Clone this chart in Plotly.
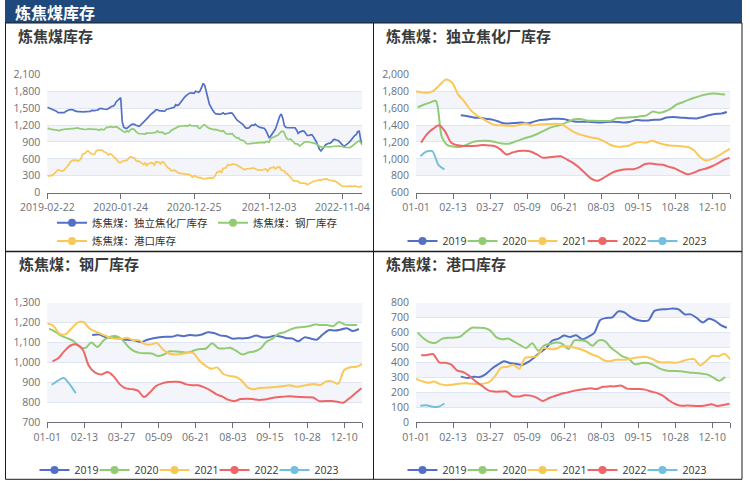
import pandas as pd
import plotly.graph_objects as go

W, H = 750, 481

# weekly inventory, 10k tonnes (one list per year, Fridays)
COKING_2019 = [1515, 1505, 1490, 1485, 1475, 1465, 1445, 1420, 1420, 1425, 1430, 1420, 1440, 1460, 1465,
               1475, 1475, 1470, 1450, 1440, 1438, 1438, 1433, 1430, 1435, 1438, 1436, 1430, 1440, 1460,
               1455, 1455, 1462, 1465, 1490, 1495, 1490, 1485, 1480, 1478, 1495, 1515, 1530, 1535, 1555]
COKING_2020 = [1610, 1640, 1665, 1685, 1260, 1160, 1145, 1140, 1165, 1195, 1210, 1215, 1212, 1195, 1182,
               1178, 1200, 1225, 1250, 1270, 1300, 1335, 1370, 1390, 1410, 1440, 1468, 1470, 1455, 1450,
               1448, 1448, 1450, 1480, 1485, 1490, 1495, 1505, 1515, 1560, 1545, 1560, 1595, 1645, 1670,
               1700, 1725, 1748, 1765, 1772, 1768, 1762]
COKING_2021 = [1800, 1785, 1782, 1810, 1880, 1938, 1900, 1760, 1680, 1570, 1512, 1470, 1430, 1400, 1397,
               1392, 1390, 1400, 1418, 1395, 1402, 1408, 1412, 1416, 1410, 1365, 1320, 1290, 1270, 1252,
               1240, 1210, 1170, 1145, 1145, 1152, 1185, 1200, 1190, 1215, 1190, 1170, 1158, 1155, 1148,
               1140, 1100, 1020, 980, 1000, 1035, 1080, 1120]
COKING_2022 = [1192, 1295, 1357, 1397, 1320, 1190, 1160, 1152, 1152, 1155, 1163, 1158, 1152, 1112, 1052,
               1075, 1093, 1095, 1088, 1055, 1015, 1018, 1026, 1030, 995, 955, 900, 835, 770, 740,
               770, 815, 850, 868, 876, 878, 900, 940, 945, 935, 930, 905, 885, 850, 817,
               835, 865, 884, 910, 945, 985, 1014]
COKING_2023 = [1030, 1085, 1090, 930, 875]

STEEL_2019 = [1138, 1140, 1128, 1124, 1122, 1115, 1113, 1110, 1102, 1114, 1122, 1127, 1129, 1129, 1136,
              1132, 1138, 1135, 1140, 1152, 1148, 1136, 1133, 1120, 1121, 1121, 1125, 1135, 1126, 1126,
              1134, 1130, 1122, 1120, 1106, 1126, 1120, 1114, 1140, 1162, 1160, 1165, 1172, 1158, 1168]
STEEL_2020 = [1170, 1155, 1135, 1122, 1108, 1080, 1072, 1100, 1078, 1110, 1128, 1133, 1118, 1083, 1058,
              1048, 1046, 1045, 1032, 1040, 1056, 1055, 1052, 1050, 1060, 1067, 1070, 1096, 1072, 1070,
              1074, 1058, 1040, 1050, 1055, 1070, 1105, 1120, 1145, 1152, 1166, 1175, 1178, 1182, 1190,
              1188, 1188, 1182, 1203, 1190, 1188, 1188]
STEEL_2021 = [1196, 1185, 1145, 1141, 1170, 1200, 1203, 1170, 1155, 1140, 1128, 1120, 1118, 1124, 1113,
              1112, 1092, 1090, 1098, 1065, 1045, 1040, 1042, 1048, 1048, 1010, 985, 968, 975, 942,
              932, 928, 910, 875, 865, 872, 873, 875, 878, 882, 886, 878, 882, 888, 892,
              886, 905, 905, 893, 962, 976, 978, 993]
STEEL_2022 = [1005, 1022, 1058, 1085, 1090, 1065, 985, 950, 940, 952, 930, 890, 870, 866, 858,
              826, 850, 882, 895, 902, 903, 902, 890, 885, 885, 875, 860, 840, 828, 812,
              806, 816, 818, 816, 812, 814, 820, 825, 828, 830, 828, 826, 825, 824, 806,
              806, 806, 803, 798, 820, 845, 870]
STEEL_2023 = [888, 908, 922, 890, 845]

PORT_2019 = [305, 296, 305, 302, 322, 358, 385, 408, 396, 392, 383, 402, 432, 466, 496,
             545, 558, 580, 570, 582, 555, 572, 598, 685, 698, 702, 742, 735, 705, 686,
             678, 682, 745, 755, 756, 762, 755, 722, 722, 698, 668, 692, 680, 650, 632]
PORT_2020 = [600, 560, 535, 532, 558, 565, 566, 572, 605, 632, 632, 630, 615, 570, 555,
             560, 540, 516, 497, 528, 478, 515, 525, 533, 525, 490, 548, 548, 540, 512,
             548, 545, 500, 470, 440, 425, 388, 395, 398, 385, 362, 348, 343, 343, 340,
             333, 330, 326, 320, 300, 278, 303]
PORT_2021 = [290, 275, 264, 272, 255, 247, 250, 258, 260, 258, 256, 258, 268, 310, 365,
             370, 385, 358, 432, 435, 445, 498, 490, 490, 510, 508, 500, 490, 475, 455,
             440, 415, 408, 418, 418, 420, 430, 435, 437, 425, 405, 400, 402, 398, 408,
             420, 422, 380, 410, 445, 440, 458, 420]
PORT_2022 = [448, 450, 455, 400, 398, 385, 345, 335, 305, 270, 242, 213, 205, 205, 206,
             175, 172, 180, 178, 165, 142, 160, 175, 189, 198, 208, 216, 222, 227, 222,
             237, 240, 240, 246, 225, 222, 222, 218, 205, 195, 176, 145, 122, 110, 112,
             110, 108, 112, 120, 108, 115, 124]
PORT_2023 = [110, 113, 104, 103, 125]

YEAR_STARTS = {2019: "2019-02-22", 2020: "2020-01-03", 2021: "2021-01-01", 2022: "2022-01-07", 2023: "2023-01-06"}
YEAR_COLORS = {2019: "#5470C6", 2020: "#91CC75", 2021: "#FAC858", 2022: "#EE6666", 2023: "#73C0DE"}

COKING = [COKING_2019, COKING_2020, COKING_2021, COKING_2022, COKING_2023]
STEEL = [STEEL_2019, STEEL_2020, STEEL_2021, STEEL_2022, STEEL_2023]
PORT = [PORT_2019, PORT_2020, PORT_2021, PORT_2022, PORT_2023]

TREND_TICKS = ["2019-02-22", "2020-01-24", "2020-12-25", "2021-12-03", "2022-11-04"]
SEASON_TICKS = ["01-01", "02-13", "03-27", "05-09", "06-21", "08-03", "09-15", "10-28", "12-10"]

FONT = "Open Sans, Noto Sans CJK SC, sans-serif"
CJK = "Noto Sans CJK SC, sans-serif"
LABEL = "#6E7079"


def px_x(v):
    return v / W


def px_y(v):
    return 1 - v / H


def real_dates(year, n):
    return pd.date_range(YEAR_STARTS[year], periods=n, freq="7D")


def season_dates(year, n):
    # map onto a leap year so every MM-DD has a slot
    return ["2020" + s[4:] for s in real_dates(year, n).strftime("%Y-%m-%d")]


def legend_only(name, color, xa, ya, leg):
    return go.Scatter(x=[None], y=[None], mode="lines+markers", name=name,
                      line=dict(color=color, width=2), marker=dict(size=8, color=color),
                      xaxis=xa, yaxis=ya, legend=leg)


fig = go.Figure()

# ---- panel 1: full history ----
trend = [("炼焦煤：独立焦化厂库存", COKING, "#5470C6", "legend"),
         ("炼焦煤：钢厂库存", STEEL, "#91CC75", "legend"),
         ("炼焦煤：港口库存", PORT, "#FAC858", "legend2")]
for name, series, color, leg in trend:
    xs, ys = [], []
    for year, vals in zip(YEAR_STARTS, series):
        xs += list(real_dates(year, len(vals)))
        ys += vals
    fig.add_trace(go.Scatter(x=xs, y=ys, mode="lines", line=dict(color=color, width=1.7),
                             xaxis="x", yaxis="y", showlegend=False))
    fig.add_trace(legend_only(name, color, "x", "y", leg))

# ---- panels 2-4: seasonal ----
for ax, series, leg in [("2", COKING, "legend3"), ("3", STEEL, "legend4"), ("4", PORT, "legend5")]:
    for year, vals in zip(YEAR_STARTS, series):
        c = YEAR_COLORS[year]
        fig.add_trace(go.Scatter(x=season_dates(year, len(vals)), y=vals, mode="lines",
                                 line=dict(color=c, width=2, shape="spline", smoothing=0.8),
                                 xaxis="x" + ax, yaxis="y" + ax, showlegend=False))
        fig.add_trace(legend_only(str(year), c, "x" + ax, "y" + ax, leg))
    # blank trailing entry so the last label is not cut by the legend box
    fig.add_trace(go.Scatter(x=[None], y=[None], mode="lines", name=" ",
                             line=dict(width=0, color="rgba(0,0,0,0)"),
                             xaxis="x" + ax, yaxis="y" + ax, legend=leg))

LEFT = [px_x(47.3), px_x(362.3)]
RIGHT = [px_x(416), px_x(730.3)]
TOP = [px_y(192.7), px_y(74.3)]
BOTTOM = [px_y(422.2), px_y(302.7)]

tickfont = dict(family=FONT, size=10.5, color=LABEL)
xcommon = dict(type="date", showgrid=False, zeroline=False, showline=True, linecolor=LABEL,
               linewidth=1, ticks="outside", ticklen=5, tickcolor=LABEL, tickfont=tickfont,
               fixedrange=True)
ycommon = dict(showgrid=True, gridcolor="#E0E6F1", gridwidth=1, zeroline=False, showline=False,
               ticks="", tickformat=",", tickfont=tickfont, ticklabelstandoff=6)

season_vals = ["2020-" + t for t in SEASON_TICKS] + ["2020-12-31"]
season_text = SEASON_TICKS + [""]

y_specs = {"": (0, 2100, 300), "2": (600, 2000, 200), "3": (700, 1300, 100), "4": (0, 800, 100)}

fig.update_layout(
    xaxis=dict(xcommon, domain=LEFT, anchor="y", range=["2019-02-22", "2023-02-03"],
               tickvals=TREND_TICKS, ticktext=TREND_TICKS),
    xaxis2=dict(xcommon, domain=RIGHT, anchor="y2", range=["2020-01-01", "2020-12-31"],
                tickvals=season_vals, ticktext=season_text),
    xaxis3=dict(xcommon, domain=LEFT, anchor="y3", range=["2020-01-01", "2020-12-31"],
                tickvals=season_vals, ticktext=season_text),
    xaxis4=dict(xcommon, domain=RIGHT, anchor="y4", range=["2020-01-01", "2020-12-31"],
                tickvals=season_vals, ticktext=season_text),
    yaxis=dict(ycommon, domain=TOP, anchor="x", range=[0, 2100], dtick=300),
    yaxis2=dict(ycommon, domain=TOP, anchor="x2", range=[600, 2000], dtick=200),
    yaxis3=dict(ycommon, domain=BOTTOM, anchor="x3", range=[700, 1300], dtick=100),
    yaxis4=dict(ycommon, domain=BOTTOM, anchor="x4", range=[0, 800], dtick=100),
)

shapes = []
# alternating bands
for ax, (lo, hi, step) in y_specs.items():
    n = int(round((hi - lo) / step))
    for i in range(1, n, 2):
        shapes.append(dict(type="rect", xref=("x" + ax + " domain"), yref="y" + ax,
                           x0=0, x1=1, y0=lo + i * step, y1=lo + (i + 1) * step,
                           fillcolor="#F3F5FA", line=dict(width=0), layer="below"))

BORDER = "#1c1c1c"
shapes += [
    dict(type="rect", xref="paper", yref="paper", x0=px_x(5), x1=px_x(742), y0=px_y(23), y1=px_y(0),
         fillcolor="#1F487C", line=dict(width=0), layer="below"),
    dict(type="rect", xref="paper", yref="paper", x0=px_x(5.5), x1=px_x(742), y0=px_y(479.3),
         y1=px_y(23), line=dict(color=BORDER, width=1)),
    dict(type="line", xref="paper", yref="paper", x0=px_x(373.5), x1=px_x(373.5), y0=px_y(479.3),
         y1=px_y(23), line=dict(color=BORDER, width=1)),
    dict(type="line", xref="paper", yref="paper", x0=px_x(5.5), x1=px_x(742), y0=px_y(251.5),
         y1=px_y(251.5), line=dict(color=BORDER, width=1.5)),
]

titles = [("炼焦煤库存", 16, 35), ("炼焦煤：独立焦化厂库存", 384, 35),
          ("炼焦煤：钢厂库存", 16.5, 263.5), ("炼焦煤：港口库存", 384, 263.5)]
annotations = [dict(text=t, x=px_x(x), y=px_y(y), xref="paper", yref="paper", xanchor="left",
                    yanchor="middle", showarrow=False,
                    font=dict(family=CJK, size=15, color="#3a3a3a", weight="bold"))
               for t, x, y in titles]
annotations.append(dict(text="炼焦煤库存", x=px_x(13), y=px_y(12), xref="paper", yref="paper",
                        xanchor="left", yanchor="middle", showarrow=False,
                        font=dict(family=CJK, size=16, color="white", weight="bold")))

legfont = dict(family=FONT, size=10.5, color="#333333")
legcommon = dict(orientation="h", font=legfont, bgcolor="rgba(0,0,0,0)", itemwidth=30,
                 xanchor="left", yanchor="middle", tracegroupgap=0,
                 itemclick=False, itemdoubleclick=False)

fig.update_layout(
    width=W, height=H, margin=dict(l=0, r=0, t=0, b=0, autoexpand=False),
    paper_bgcolor="white", plot_bgcolor="white",
    font=dict(family=FONT, color=LABEL),
    shapes=shapes, annotations=annotations,
    legend=dict(legcommon, x=px_x(52), y=px_y(222.7)),
    legend2=dict(legcommon, x=px_x(52), y=px_y(241)),
    legend3=dict(legcommon, x=px_x(402.5), y=px_y(241), entrywidth=15),
    legend4=dict(legcommon, x=px_x(34.5), y=px_y(470), entrywidth=15),
    legend5=dict(legcommon, x=px_x(402.5), y=px_y(470), entrywidth=15),
)

# the page's default body margin would shift the whole figure
fig.write_html("out.html", config={"displayModeBar": False},
               post_script="document.body.style.margin = '0';")
